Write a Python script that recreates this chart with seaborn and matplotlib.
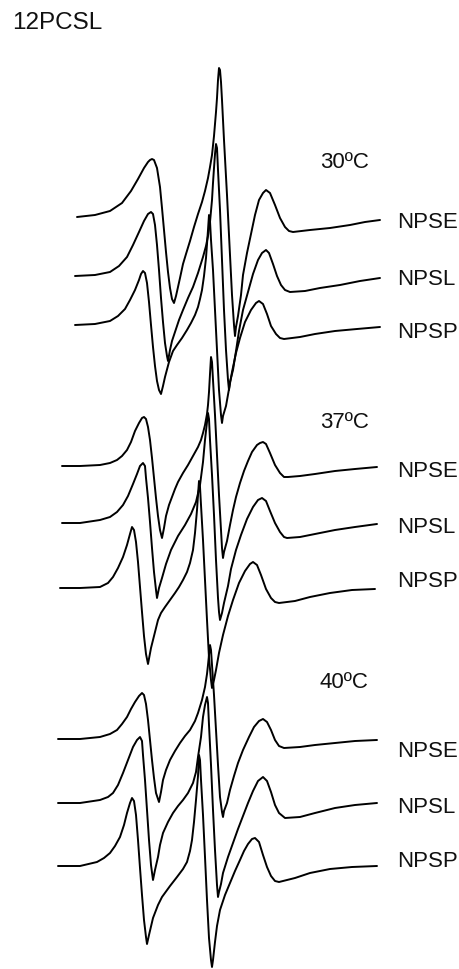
import pandas as pd
import seaborn as sns
import matplotlib.pyplot as plt

# spectra, (x, y) in picture pixels (y grows downwards)
npse_30 = [(77, 217), (95, 215), (110, 211), (122, 203), (131, 191), (138, 179), (144, 168), (148, 162), (150, 160), (152, 159),
           (154, 160), (157, 168), (160, 187), (162, 208), (164, 230), (166, 252), (168, 272), (170, 288), (172, 299), (174, 303),
           (176, 296), (178, 287), (180, 278), (183, 264), (186, 254), (190, 241), (194, 227), (198, 214), (202, 202), (205, 191),
           (208, 178), (210, 167), (212, 155), (214, 136), (216, 112), (217, 98), (218, 80), (219, 68),
           (220, 70), (221, 82), (222, 100), (224, 140), (227, 195), (230, 255), (232, 295), (234, 325), (235, 336),
           (236, 327), (238, 316), (241, 295), (243, 275), (247, 253), (251, 234), (255, 215), (259, 200), (263, 193), (266, 190),
           (270, 193), (275, 205), (280, 218), (285, 227), (289, 231), (293, 232),
           (310, 230), (330, 228), (350, 225), (365, 222), (380, 220)]
npsl_30 = [(75, 276), (95, 275), (110, 272), (119, 266), (127, 257), (133, 245), (139, 232), (144, 221), (148, 214), (151, 212),
           (153, 214), (155, 225), (157, 245), (159, 270), (161, 298), (163, 322), (165, 343), (167, 356), (168, 361),
           (170, 350), (172, 341), (175, 332), (179, 320), (183, 310), (188, 298), (193, 287), (198, 273), (203, 257), (206, 246),
           (208, 236), (210, 222), (212, 200), (213, 183), (214, 168), (215, 154), (216, 144),
           (217, 148), (218, 170), (220, 210), (222, 260), (224, 310), (226, 350), (228, 380), (229, 390),
           (230, 382), (233, 370), (236, 351), (239, 331), (243, 310), (248, 292), (253, 274), (258, 260), (262, 253), (266, 250),
           (269, 253), (273, 264), (277, 276), (281, 285), (285, 290), (290, 292),
           (305, 291), (320, 288), (340, 285), (360, 281), (380, 278)]
npsp_30 = [(75, 325), (95, 324), (110, 321), (118, 316), (125, 309), (130, 300), (135, 290), (139, 280), (141, 274), (143, 271),
           (145, 273), (147, 283), (149, 302), (151, 325), (153, 347), (155, 366), (157, 381), (159, 390), (161, 394),
           (163, 386), (165, 377), (169, 362), (173, 351), (177, 345), (182, 338), (187, 330), (191, 323), (195, 315), (198, 307),
           (200, 299), (202, 290), (204, 276), (206, 258), (207, 244), (208, 230), (209, 215),
           (210, 221), (211, 240), (213, 270), (215, 310), (217, 350), (219, 390), (221, 415), (222, 423),
           (223, 416), (226, 406), (229, 389), (232, 372), (236, 353), (240, 338), (245, 322), (251, 310), (256, 303), (259, 301),
           (263, 304), (267, 314), (271, 326), (276, 334), (280, 338), (284, 339),
           (300, 337), (315, 334), (335, 331), (357, 329), (380, 327)]

npse_37 = [(62, 466), (80, 466), (100, 465), (110, 463), (117, 460), (122, 456), (127, 450), (131, 442), (135, 431), (139, 423), (142, 418), (144, 417),
           (146, 419), (148, 427), (150, 440), (152, 458), (154, 478), (156, 498), (158, 516), (160, 530), (162, 538),
           (164, 528), (166, 516), (169, 505), (172, 497), (175, 489), (178, 482), (183, 473), (188, 465), (193, 456), (198, 447),
           (201, 440), (203, 433), (205, 425), (207, 414), (208, 405), (209, 392), (210, 374), (211, 357),
           (212, 362), (213, 380), (215, 415), (217, 455), (219, 495), (221, 530), (222, 548), (223, 558),
           (224, 552), (227, 541), (230, 525), (233, 510), (236, 497), (240, 483), (244, 471), (248, 461), (252, 452), (257, 445), (260, 443), (263, 442),
           (266, 444), (270, 453), (275, 465), (280, 473), (284, 477), (288, 477),
           (300, 476), (315, 474), (335, 471), (355, 469), (377, 467)]
npsl_37 = [(62, 523), (80, 523), (100, 520), (110, 517), (117, 512), (123, 505), (128, 496), (133, 484), (137, 474), (140, 466), (143, 463),
           (145, 466), (146, 478), (148, 498), (150, 522), (152, 548), (154, 572), (156, 590), (157, 598),
           (159, 588), (162, 578), (166, 564), (171, 550), (178, 536), (185, 525), (191, 514), (196, 502), (200, 485), (203, 462),
           (205, 440), (207, 422), (208, 413),
           (209, 419), (210, 440), (212, 475), (214, 515), (216, 560), (218, 598), (219, 612), (220, 620),
           (222, 613), (224, 603), (228, 586), (231, 569), (236, 550), (241, 535), (247, 519), (253, 507), (258, 500), (262, 498),
           (266, 501), (270, 511), (275, 523), (280, 532), (284, 537), (287, 538),
           (300, 537), (315, 534), (335, 530), (355, 527), (377, 524)]
npsp_37 = [(60, 588), (80, 588), (100, 587), (108, 583), (113, 577), (118, 568), (123, 557), (127, 545), (130, 534), (132, 527),
           (134, 530), (136, 542), (138, 562), (140, 587), (142, 612), (144, 636), (146, 654), (148, 664),
           (151, 648), (155, 632), (158, 620), (161, 613), (165, 607), (170, 600), (175, 593), (179, 587), (183, 580), (187, 572),
           (190, 563), (193, 550), (195, 533), (197, 510), (198, 495), (199, 481),
           (200, 487), (201, 505), (203, 540), (205, 580), (207, 620), (209, 658), (211, 680), (212, 688),
           (214, 680), (216, 670), (219, 653), (223, 635), (228, 616), (233, 600), (239, 583), (245, 571), (250, 564), (253, 562),
           (257, 565), (261, 575), (266, 589), (271, 598), (275, 602), (279, 603),
           (295, 601), (310, 597), (330, 593), (352, 590), (375, 589)]

npse_40 = [(58, 739), (80, 739), (100, 737), (110, 734), (117, 730), (122, 724), (127, 717), (131, 709), (135, 702), (139, 696), (142, 693),
           (144, 695), (146, 704), (148, 720), (150, 740), (152, 760), (154, 778), (156, 793), (159, 802),
           (161, 792), (163, 780), (166, 770), (170, 760), (175, 751), (180, 743), (185, 736), (190, 730), (195, 721), (198, 713),
           (202, 700), (205, 687), (207, 674), (208, 665), (209, 655), (210, 645),
           (211, 650), (212, 665), (214, 695), (216, 730), (218, 765), (220, 797), (222, 812), (223, 817),
           (224, 811), (227, 803), (230, 790), (234, 776), (238, 763), (243, 750), (249, 737), (254, 727), (259, 721), (263, 719),
           (267, 722), (271, 730), (275, 740), (279, 746), (284, 748),
           (300, 747), (315, 745), (335, 743), (355, 741), (377, 740)]
npsl_40 = [(58, 803), (80, 803), (100, 800), (108, 797), (113, 793), (118, 785), (123, 773), (128, 760), (133, 747), (137, 740), (140, 737),
           (142, 741), (143, 755), (145, 780), (147, 810), (149, 840), (151, 865), (153, 880),
           (155, 870), (158, 857), (160, 845), (163, 833), (168, 822), (173, 813), (178, 806), (183, 800), (188, 793), (193, 783),
           (196, 772), (198, 757), (201, 737), (203, 717), (205, 705), (207, 697),
           (208, 703), (209, 725), (211, 765), (213, 810), (215, 850), (217, 885), (218, 897),
           (219, 892), (221, 884), (223, 873), (228, 857), (233, 843), (238, 829), (243, 816), (248, 803), (253, 791), (258, 781), (263, 777),
           (267, 781), (271, 792), (275, 805), (279, 813), (285, 818),
           (300, 817), (315, 813), (335, 808), (355, 805), (377, 803)]
npsp_40 = [(58, 866), (80, 866), (97, 862), (104, 858), (110, 853), (115, 846), (120, 837), (124, 825), (127, 813), (130, 803), (132, 798),
           (134, 801), (136, 815), (138, 840), (140, 868), (142, 895), (144, 920), (146, 937), (147, 944),
           (149, 935), (153, 918), (158, 905), (162, 897), (170, 886), (177, 877), (183, 869), (187, 862), (190, 851), (192, 840),
           (194, 822), (196, 800), (198, 776), (199, 755),
           (200, 760), (201, 780), (203, 815), (205, 857), (207, 900), (209, 938), (211, 960), (212, 967),
           (213, 960), (215, 942), (217, 926), (220, 910), (225, 895), (230, 883), (235, 871), (240, 860), (244, 851), (248, 844), (252, 839), (255, 838),
           (259, 842), (263, 855), (267, 867), (271, 876), (275, 881), (279, 882),
           (295, 878), (310, 873), (330, 869), (352, 867), (377, 866)]

temps = ['30ºC', '37ºC', '40ºC']
samples = ['NPSE', 'NPSL', 'NPSP']
title = '12PCSL'

spectra = {('30ºC', 'NPSE'): npse_30, ('30ºC', 'NPSL'): npsl_30, ('30ºC', 'NPSP'): npsp_30,
           ('37ºC', 'NPSE'): npse_37, ('37ºC', 'NPSL'): npsl_37, ('37ºC', 'NPSP'): npsp_37,
           ('40ºC', 'NPSE'): npse_40, ('40ºC', 'NPSL'): npsl_40, ('40ºC', 'NPSP'): npsp_40}

frames = []
for (t, s), pts in spectra.items():
    d = pd.DataFrame(pts, columns=['x', 'y'])
    d['curve'] = t + ' ' + s
    frames.append(d)
df = pd.concat(frames, ignore_index=True)

sns.set_style('white')
plt.rcParams['font.family'] = ['Liberation Sans', 'DejaVu Sans']
plt.rcParams['text.color'] = 'black'

fig = plt.figure(figsize=(4.6, 9.69), dpi=100)
ax = fig.add_axes([0, 0, 1, 1])
sns.lineplot(data=df, x='x', y='y', units='curve', estimator=None, sort=False,
             color='black', linewidth=1.4, solid_joinstyle='round', ax=ax)
ax.set_xlim(0, 460)
ax.set_ylim(969, 0)
ax.axis('off')

ax.text(12, 29, title, fontsize=17.5, ha='left', va='baseline', color='#111111')
temp_base = [168, 428, 688]
label_base = [[228, 285, 338], [477, 533, 587], [757, 813, 867]]
for i, t in enumerate(temps):
    ax.text(320, temp_base[i], t, fontsize=16, ha='left', va='baseline', color='#111111')
    for j, s in enumerate(samples):
        ax.text(397, label_base[i][j], s, fontsize=16, ha='left', va='baseline', color='#111111')

fig.savefig('out.png', dpi=100)
